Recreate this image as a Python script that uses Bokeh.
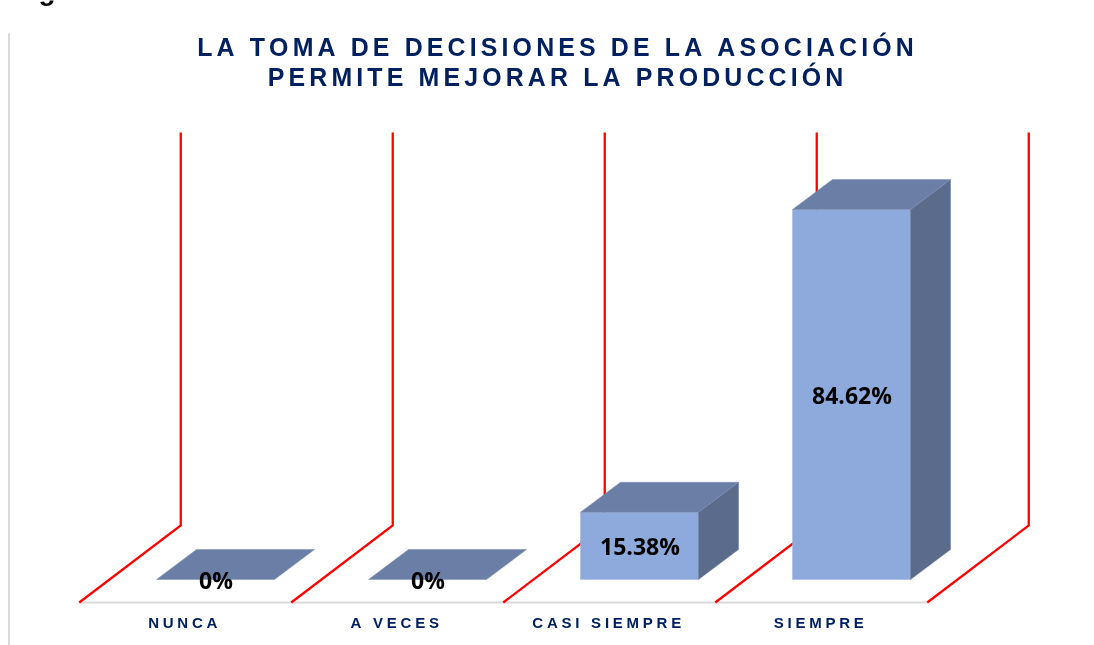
from bokeh.plotting import figure
from bokeh.models import Range1d, Label
from bokeh.embed import file_html
from bokeh.resources import INLINE

# --- data
categories = ["NUNCA", "A VECES", "CASI SIEMPRE", "SIEMPRE"]
percent = [0.0, 0.0, 15.38, 84.62]
labels = ["0%", "0%", "15.38%", "84.62%"]
title_lines = ["LA TOMA DE DECISIONES DE LA ASOCIACIÓN", "PERMITE MEJORAR LA PRODUCCIÓN"]
cut_off_caption = "Figura"

# --- layout in pixels of the 1094x645 canvas
W, H = 1094, 645
PX_PER_PCT = 370 / 84.62
BASE_PX = 579            # canvas y of 0 %
SLOT_W = 212
SLOT_X0 = 78.75
BAR_OFF = 77.25
BAR_W = 118
BAR_DX, BAR_DY = 40, 30
WALL_DX, WALL_DY = 101.5, 77
FLOOR_PX = 602
WALL_TOP_PX = 132

NAVY = "#002060"
HAIR = "\u200a"

def spaced(s, sep=HAIR):
    return sep.join(s)

def yv(px):
    return (BASE_PX - px) / PX_PER_PCT

p = figure(width=W, height=H, output_backend="svg", toolbar_location=None,
           x_range=Range1d(0, W), y_range=Range1d(yv(H), yv(0)),
           min_border=0, outline_line_color=None)
p.axis.visible = False
p.grid.visible = False
p.styles = {"position": "fixed", "left": "0px", "top": "0px", "width": f"{W}px", "height": f"{H}px"}

# frame line at left
p.line([8.5, 8.5], [yv(33), yv(645)], line_color="#d9d9d9", line_width=2)

# floor front edge
p.line([SLOT_X0, SLOT_X0 + SLOT_W * len(categories)], [yv(FLOOR_PX)] * 2,
       line_color="#d9d9d9", line_width=2)

# red walls / floor dividers
for i in range(len(categories) + 1):
    x0 = SLOT_X0 + SLOT_W * i
    p.line([x0, x0 + WALL_DX, x0 + WALL_DX],
           [yv(FLOOR_PX), yv(FLOOR_PX - WALL_DY), yv(WALL_TOP_PX)],
           line_color="#ff0000", line_width=2.3, line_join="miter")

# 3D bars
for i, v in enumerate(percent):
    x0 = SLOT_X0 + SLOT_W * i + BAR_OFF
    x1 = x0 + BAR_W
    dx, dy = BAR_DX, BAR_DY / PX_PER_PCT
    if v > 0:
        p.patch([x0, x1, x1, x0], [0, 0, v, v], fill_color="#8EA9DB", line_color="#9fb6e0", line_width=0.5)
        p.patch([x1, x1 + dx, x1 + dx, x1], [0, dy, v + dy, v], fill_color="#5B6B8C", line_color="#6a7a99", line_width=0.5)
    p.patch([x0, x1, x1 + dx, x0 + dx], [v, v, v + dy, v + dy], fill_color="#6B7FA6", line_color="#7b8eb2", line_width=0.5)

# value labels
for i, (v, t) in enumerate(zip(percent, labels)):
    x0 = SLOT_X0 + SLOT_W * i + BAR_OFF
    p.add_layout(Label(x=x0 + BAR_W / 2 + 0.5, y=v / 2 if v > 0 else yv(579),
                       text=t, text_align="center", text_baseline="middle",
                       text_font="Open Sans", text_font_style="bold",
                       text_font_size="23px", text_color="#000000"))

# category labels
for i, c in enumerate(categories):
    p.add_layout(Label(x=SLOT_X0 + SLOT_W * i + 103.5, y=yv(622), text=spaced(c, HAIR * 3),
                       text_align="center", text_baseline="middle",
                       text_font="Liberation Sans", text_font_style="bold",
                       text_font_size="15px", text_color=NAVY))

# title
for t, ypx in zip(title_lines, [46.5, 76.5]):
    p.add_layout(Label(x=555, y=yv(ypx), text=spaced(t, HAIR * 2),
                       text_align="center", text_baseline="middle",
                       text_font="Liberation Sans", text_font_style="bold",
                       text_font_size="24.9px", text_color=NAVY))

# caption above the chart, cut off by the top of the image as in the reference
p.add_layout(Label(x=13, y=yv(-10), text=cut_off_caption, text_align="left", text_baseline="alphabetic",
                   text_font="Liberation Sans", text_font_style="bold",
                   text_font_size="28px", text_color="#000000"))

open("out.html", "w").write(file_html(p, INLINE))
